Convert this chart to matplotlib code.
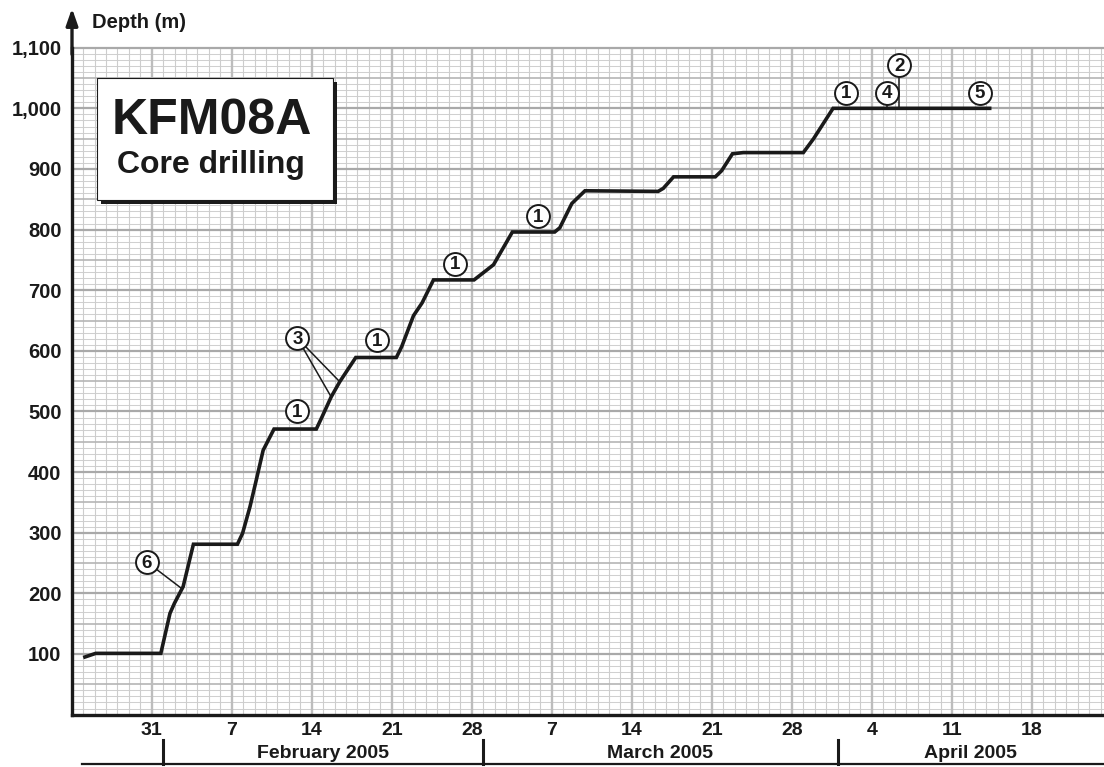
import datetime
import numpy as np
import matplotlib
matplotlib.use('Agg')
import matplotlib.pyplot as plt
import matplotlib.transforms as mtransforms
from matplotlib.patches import Rectangle

plt.rcParams['font.family'] = ['Liberation Sans', 'DejaVu Sans']
plt.rcParams['font.weight'] = 'bold'

# day of year 2005 -> drilled depth (m)
day = [25.16, 26.1, 31.8, 32.6, 33.0, 33.75, 34.65, 38.5, 38.95, 39.6, 40.15,
       40.75, 41.7, 45.4, 45.9, 46.7, 47.45, 48.85, 52.4, 52.87, 53.9, 54.65,
       55.65, 59.2, 60.9, 62.55, 66.25, 66.7, 67.75, 68.9, 75.3, 75.75, 76.65,
       80.3, 80.85, 81.8, 82.75, 88.0, 88.9, 90.6, 104.3]
depth = [95, 101, 101, 167, 184, 211, 281, 281, 299, 343, 387,
         436, 471, 471, 491, 524, 549, 589, 589, 607, 658, 679,
         717, 717, 742, 796, 796, 803, 843, 864, 863, 868, 887,
         887, 897, 925, 927, 927, 950, 1000, 1000]

# circled event markers: label, day, depth
mark_labels = ['6', '1', '3', '1', '1', '1', '1', '4', '2', '5']
mark_day = [30.56, 43.69, 43.74, 50.74, 57.54, 64.82, 91.74, 95.3, 96.4, 103.46]
mark_depth = [252, 501, 621, 618, 744, 822, 1026, 1026, 1071, 1026]

# leader lines: from marker to point on curve
leader_from = [(30.56, 252), (43.74, 621), (43.74, 621), (96.4, 1071), (95.3, 1026)]
leader_to = [(33.62, 208), (46.7, 524), (47.45, 549), (96.4, 1000), (95.3, 1000)]

week_ticks = list(range(31, 109, 7))
month_start = [32, 60, 91]
month_names = ['February 2005', 'March 2005', 'April 2005']

x0, x1 = 24.03, 114.3
y0, y1 = 0, 1100

fig = plt.figure(figsize=(11.04, 7.67), dpi=100)
ax = fig.add_axes([72 / 1104, 1 - 714.6 / 767, 1 - 72 / 1104, (714.6 - 47.7) / 767])
ax.set_xlim(x0, x1)
ax.set_ylim(y0, y1)

# graph paper grid
for v in np.arange(10, 1101, 10):
    if v % 100 == 0:
        ax.axhline(v, color='#a9a9a9', lw=1.6, zorder=1.5, clip_on=False)
    elif v % 50 == 0:
        ax.axhline(v, color='#b5b5b5', lw=1.2, zorder=1.2)
    else:
        ax.axhline(v, color='#d0d0d0', lw=0.75, zorder=1)
for d in range(25, 115):
    if d in week_ticks:
        ax.axvline(d, color='#bdbdbd', lw=1.7, zorder=1.4)
    else:
        ax.axvline(d, color='#cdcdcd', lw=0.8, zorder=1)

ax.plot(day, depth, color='#1a1a1a', lw=2.6, zorder=5, solid_joinstyle='miter')

for (a, b), (c, d) in zip(leader_from, leader_to):
    ax.plot([a, c], [b, d], color='#1a1a1a', lw=1.1, zorder=4)

for lab, mx, my in zip(mark_labels, mark_day, mark_depth):
    ax.plot(mx, my, 'o', ms=16.5, mfc='white', mec='#1a1a1a', mew=1.4, zorder=6)
    ax.text(mx, my - 2, lab, ha='center', va='center', fontsize=13.5,
            fontweight='bold', color='#1a1a1a', zorder=7)

for s in ['top', 'right']:
    ax.spines[s].set_visible(False)
for s in ['left', 'bottom']:
    ax.spines[s].set_linewidth(2.4)
    ax.spines[s].set_color('#1a1a1a')
    ax.spines[s].set_zorder(8)

ax.set_yticks(range(100, 1101, 100))
ax.set_yticklabels([f'{v:,}' for v in range(100, 1101, 100)])
ax.set_xticks(week_ticks)
base = datetime.date(2005, 1, 1)
ax.set_xticklabels([str((base + datetime.timedelta(days=t - 1)).day) for t in week_ticks])
ax.tick_params(axis='y', length=0, pad=7.5, labelsize=14.5, colors='#1a1a1a')
ax.tick_params(axis='x', length=0, pad=5, labelsize=14, colors='#1a1a1a')

# arrow on top of y axis
ax.annotate('', xy=(0, 1.059), xytext=(0, 0.99), xycoords='axes fraction',
            arrowprops=dict(arrowstyle='-|>,head_length=1.0,head_width=0.35',
                            lw=2.4, color='#1a1a1a', mutation_scale=10,
                            shrinkA=0, shrinkB=0),
            annotation_clip=False)
fig.text(92 / 1104, 1 - 23 / 767, 'Depth (m)', ha='left', va='center',
         fontsize=14.5, fontweight='bold', color='#1a1a1a')

# month band under the axis
trans = mtransforms.blended_transform_factory(ax.transData, fig.transFigure)
ax.plot([24.9, x1], [1 - 764 / 767] * 2, color='#1a1a1a', lw=1.6,
        transform=trans, clip_on=False)
for m in month_start:
    ax.plot([m, m], [1 - 740 / 767, 1 - 764 / 767], color='#1a1a1a', lw=2.2,
            transform=trans, clip_on=False)
month_end = month_start[1:] + [x1]
for a, b, name in zip(month_start, month_end, month_names):
    ax.text((a + b) / 2, 1 - 753 / 767, name, transform=trans, ha='center',
            va='center', fontsize=14, fontweight='bold', color='#1a1a1a')

# title box with shadow
bx, by, bw, bh = 97 / 1104, 1 - 200 / 767, 236 / 1104, 122 / 767
fig.patches.append(Rectangle((bx + 4 / 1104, by - 4 / 767), bw, bh,
                             transform=fig.transFigure, fc='#1a1a1a',
                             ec='none', zorder=9))
fig.patches.append(Rectangle((bx, by), bw, bh, transform=fig.transFigure,
                             fc='white', ec='#1a1a1a', lw=0.8, zorder=10))
fig.text(212 / 1104, 1 - 121 / 767, 'KFM08A', ha='center', va='center',
         fontsize=36, fontweight='bold', color='#1a1a1a', zorder=11)
fig.text(211 / 1104, 1 - 165 / 767, 'Core drilling', ha='center', va='center',
         fontsize=23, fontweight='bold', color='#1a1a1a', zorder=11)

fig.savefig('out.png', dpi=100)
